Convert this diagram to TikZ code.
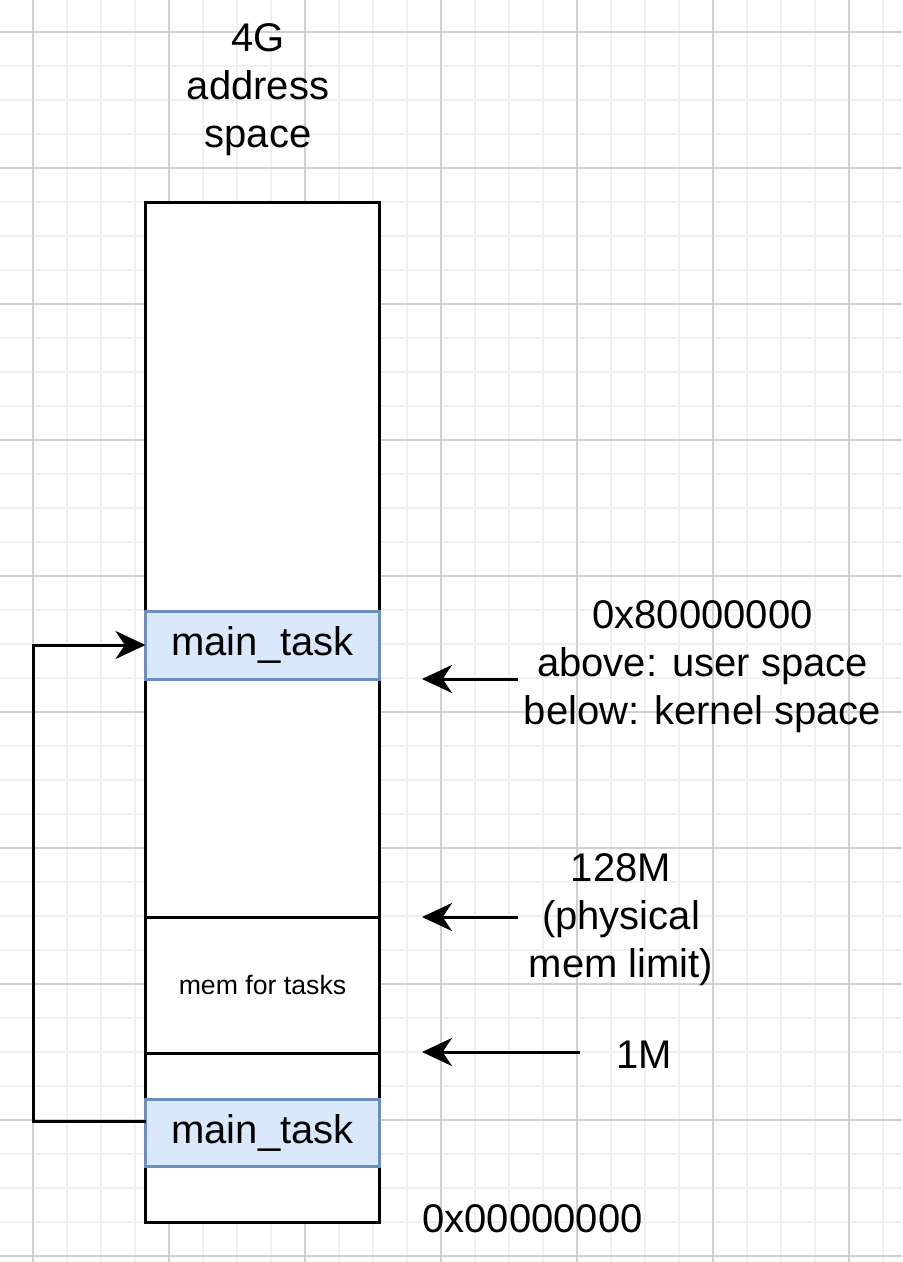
\documentclass[tikz,border=0pt]{standalone}
\usepackage{fontspec}
\setmainfont{Liberation Sans}
\usetikzlibrary{arrows.meta}
\definecolor{gridmajor}{HTML}{D0D0D0}
\definecolor{gridminor}{HTML}{F0F0F0}
\definecolor{taskfill}{HTML}{DAE8FC}
\definecolor{taskdraw}{HTML}{6C8EBF}
\begin{document}
\begin{tikzpicture}[x=0.75pt,y=-0.75pt,
  bigtext/.style={font=\fontsize{30}{36}\selectfont, align=center, inner sep=0pt},
  colbox/.style={draw=black, line width=2.25pt, fill=white, minimum width=175.5pt, inner sep=0pt, outer sep=0pt},
  taskbox/.style={draw=taskdraw, line width=2.25pt, fill=taskfill, minimum width=175.5pt, inner sep=0pt, outer sep=0pt, font=\fontsize{30}{36}\selectfont},
  conn/.style={line width=2.25pt, -{Stealth[length=22.5pt,width=21pt,inset=7pt]}},
  gridminorline/.style={draw=gridminor, line width=1pt},
  gridmajorline/.style={draw=gridmajor, line width=1pt}]
\useasboundingbox (0,0) rectangle (902,1262);
\fill[white] (0,0) rectangle (902,1262);
\begin{scope}
\clip (0,0) rectangle (902,1262);
\foreach \x in {-1,33,...,903} {\draw[gridminorline] (\x,0) -- (\x,1262);}
\foreach \y in {-2,32,...,1264} {\draw[gridminorline] (0,\y) -- (902,\y);}
\foreach \x in {33,169,...,903} {\draw[gridmajorline] (\x,0) -- (\x,1262);}
\foreach \y in {32,168,...,1264} {\draw[gridmajorline] (0,\y) -- (902,\y);}
\end{scope}
% memory column
\node[colbox, minimum height=764.25pt] (col) at (262.5,712.5) {};
\node[colbox, minimum height=102pt, font=\fontsize{20}{24}\selectfont] (mem) at (262.5,985) {\raisebox{-2.25pt}{mem for tasks}};
\node[taskbox, minimum height=51pt] (main1) at (262.5,645) {\raisebox{-1.5pt}{main\_task}};
\node[taskbox, minimum height=50.25pt] (main2) at (262.5,1132.5) {\raisebox{-1.5pt}{main\_task}};
% connector
\draw[conn] ([yshift=8.25pt]main2.west) -- ++(-112.5,0) |- (main1.west);
% labels
\node[bigtext] (title) at (258,90) {4G\\address\\space};
\node[bigtext] (lbl1) at (702.5,667) {0x80000000\\above: user space\\below: kernel space};
\node[bigtext] (lbl2) at (621,920) {128M\\(physical\\mem limit)};
\node[bigtext] (lbl3) at (644,1055) {1M};
\node[bigtext] (lbl4) at (532.5,1218.5) {0x00000000};
% arrows
\coordinate (a1s) at (518,679);
\coordinate (a1e) at (422,679);
\coordinate (a2s) at (518,917);
\coordinate (a2e) at (422,917);
\coordinate (a3s) at (580,1052);
\coordinate (a3e) at (422,1052);
\draw[conn] (a1s) -- (a1e);
\draw[conn] (a2s) -- (a2e);
\draw[conn] (a3s) -- (a3e);
\end{tikzpicture}
\end{document}
